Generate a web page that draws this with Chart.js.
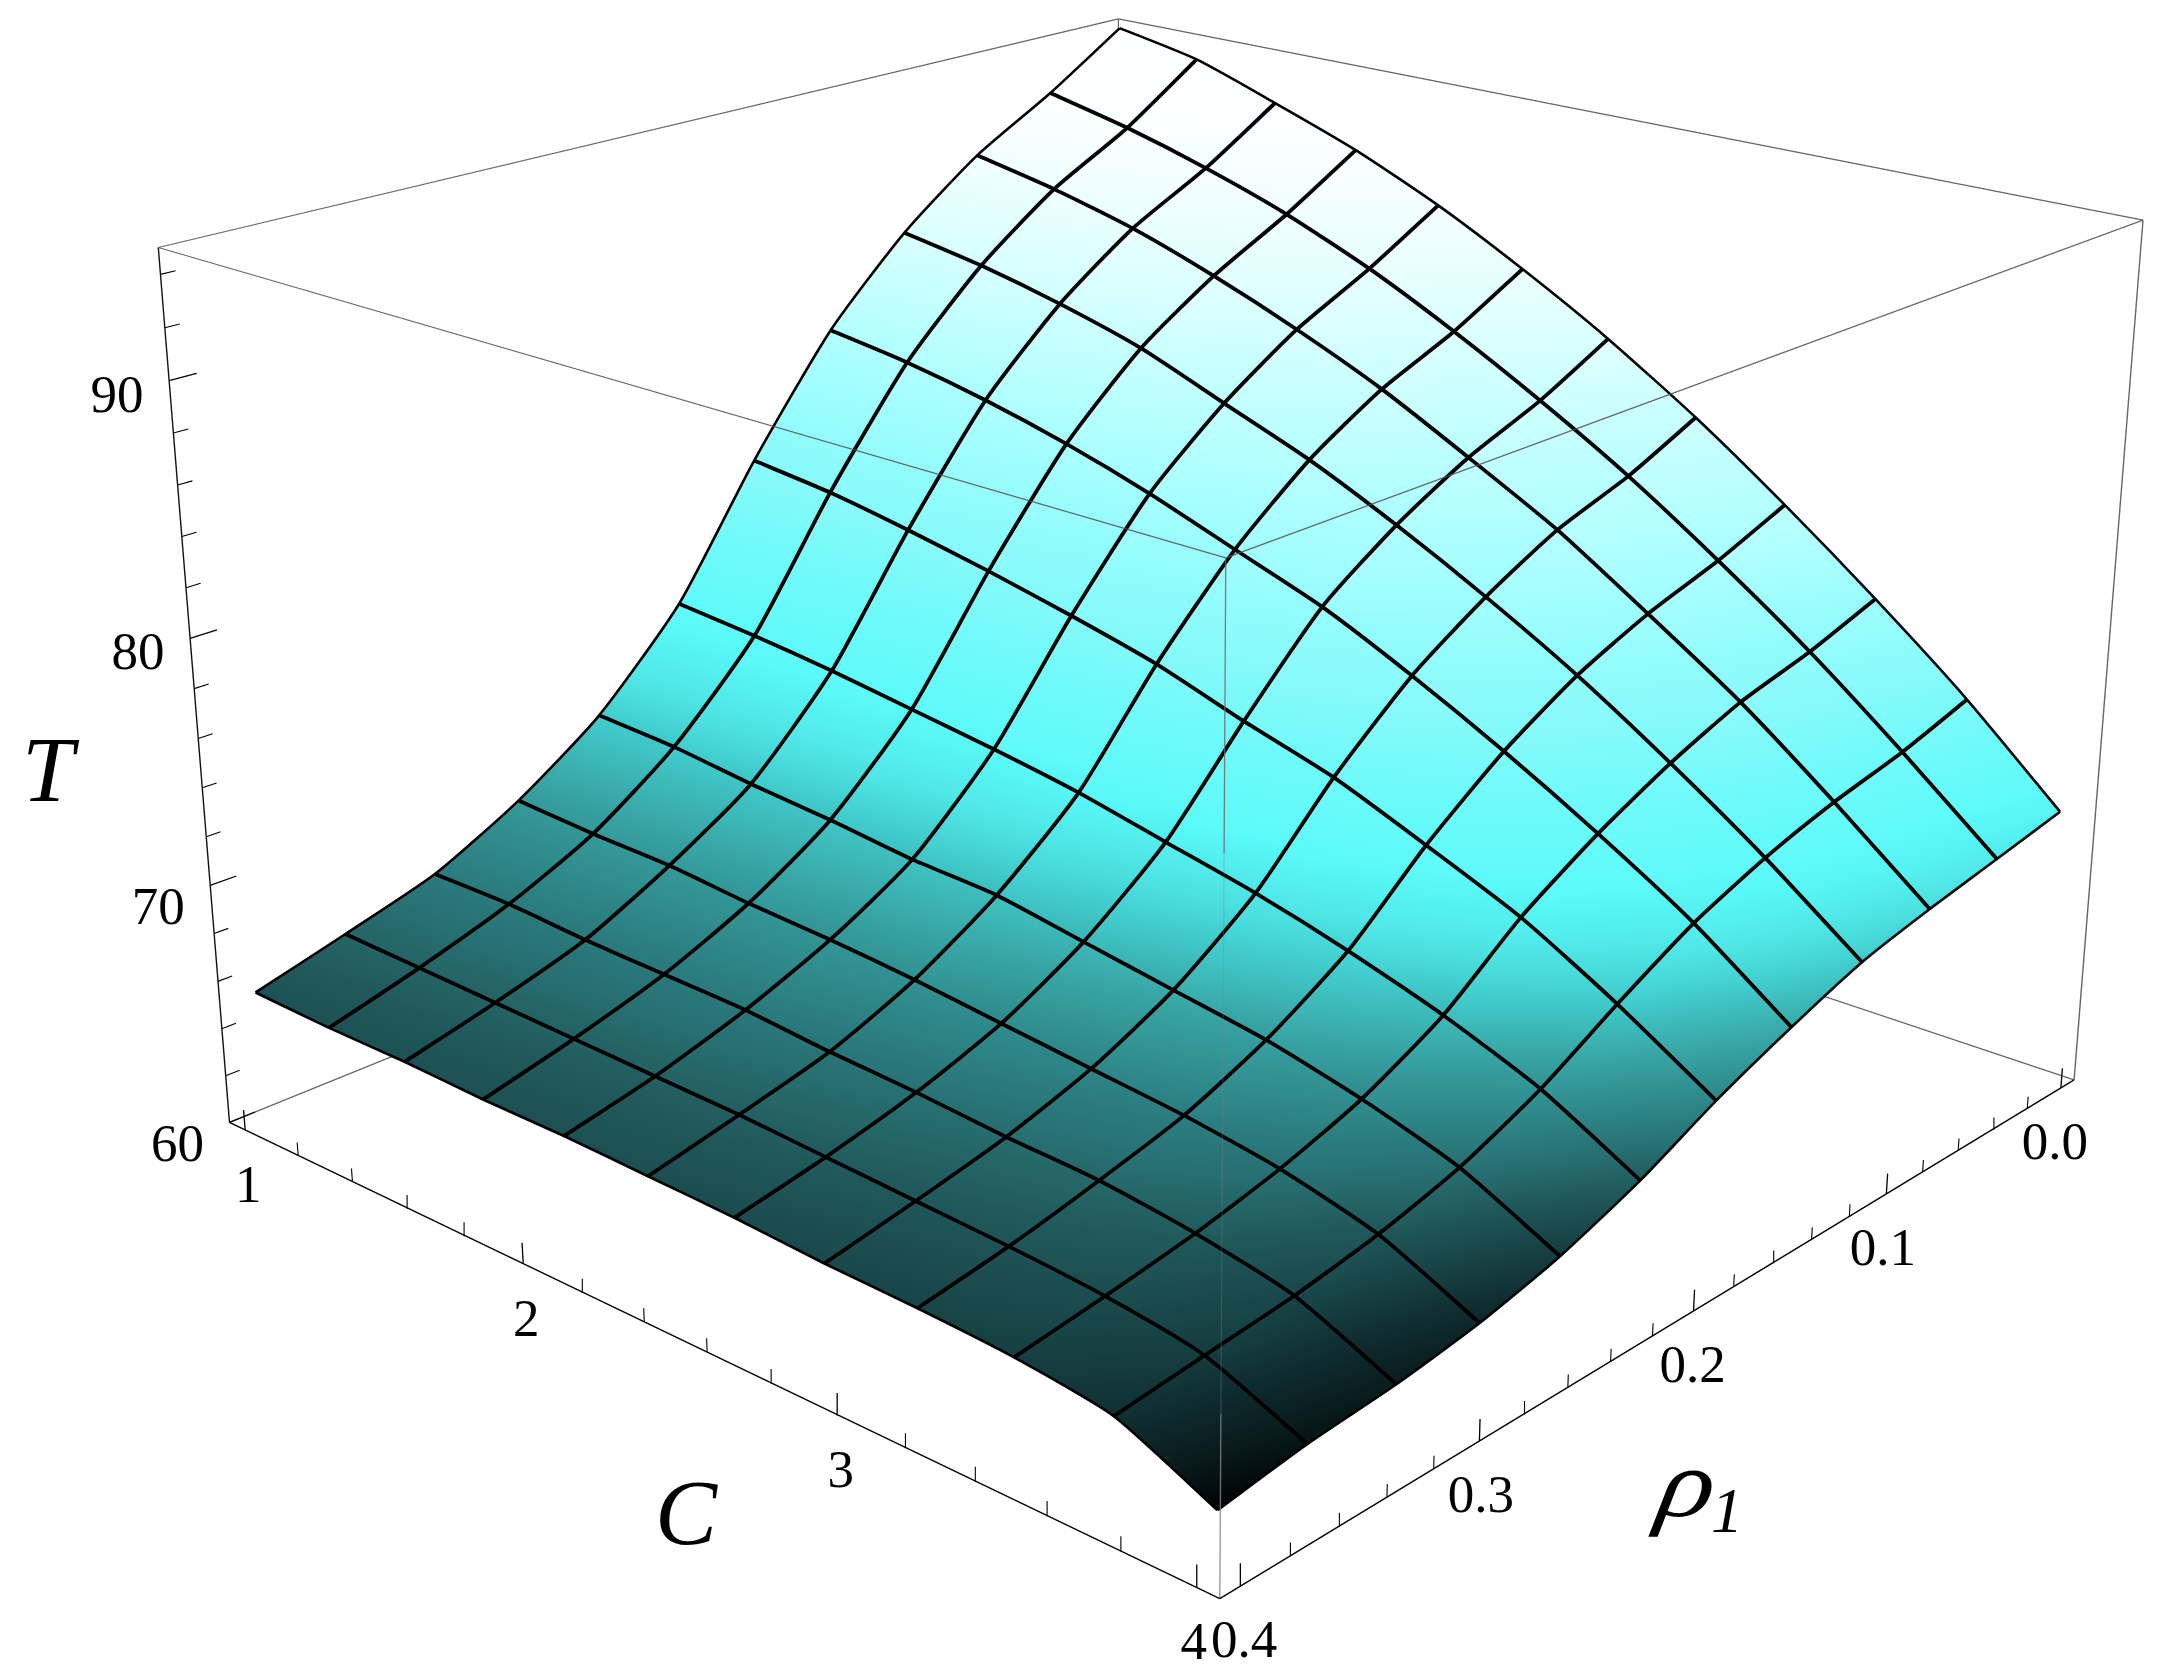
<!DOCTYPE html>
<html>
<head>
<meta charset="utf-8">
<style>html,body{margin:0;padding:0;background:#fff}canvas{display:block}</style>
<script src="https://cdn.jsdelivr.net/npm/chart.js@4"></script>
</head>
<body>
<canvas id="grafico" width="2167" height="1679" style="width:2167px;height:1679px"></canvas>
<script>
// grid of the surface
const cValues = [1, 1.273, 1.545, 1.818, 2.091, 2.364, 2.636, 2.909, 3.182, 3.455, 3.727, 4];
const rhoValues = [0, 0.036, 0.073, 0.109, 0.145, 0.182, 0.218, 0.255, 0.291, 0.327, 0.364, 0.4];
// T, one row per rho value, one column per C value
const tRow0 = [94.9, 94.2, 93.0, 91.7, 90.1, 88.2, 86.1, 83.7, 81.0, 78.1, 75.0, 71.5];
const tRow1 = [92.8, 92.0, 91.0, 89.8, 88.3, 86.5, 84.5, 82.3, 79.8, 77.1, 74.1, 70.9];
const tRow2 = [90.9, 90.2, 89.3, 88.1, 86.7, 85.1, 83.2, 81.2, 78.8, 76.3, 73.4, 70.3];
const tRow3 = [88.4, 87.8, 87.0, 86.0, 84.6, 83.2, 81.5, 79.6, 77.5, 75.1, 72.5, 69.6];
const tRow4 = [85.1, 84.6, 83.9, 83.0, 81.9, 80.6, 79.3, 77.6, 75.7, 73.6, 71.3, 68.5];
const tRow5 = [80.5, 80.1, 79.5, 78.8, 78.0, 77.1, 75.9, 74.8, 73.3, 71.7, 69.6, 67.2];
const tRow6 = [75.4, 75.1, 74.7, 74.2, 73.7, 73.1, 72.3, 71.5, 70.5, 69.3, 67.8, 65.7];
const tRow7 = [71.8, 71.6, 71.2, 70.9, 70.5, 70.3, 69.7, 69.1, 68.5, 67.6, 66.4, 64.5];
const tRow8 = [69.4, 69.2, 69.1, 68.8, 68.6, 68.3, 67.9, 67.5, 67.1, 66.5, 65.5, 63.7];
const tRow9 = [67.6, 67.6, 67.4, 67.3, 67.2, 66.9, 66.7, 66.4, 66.2, 65.7, 64.9, 63.2];
const tRow10 = [66.5, 66.4, 66.3, 66.2, 66.1, 66.0, 65.8, 65.6, 65.4, 65.1, 64.5, 62.9];
const tRow11 = [65.5, 65.4, 65.4, 65.3, 65.3, 65.2, 65.1, 64.9, 64.8, 64.6, 64.1, 62.4];
const surfaceT = [tRow0, tRow1, tRow2, tRow3, tRow4, tRow5, tRow6, tRow7, tRow8, tRow9, tRow10, tRow11];

// tick labels and tick marks
const tTicks = [60, 70, 80, 90];
const tMinor = [62, 64, 66, 68, 72, 74, 76, 78, 82, 84, 86, 88, 92, 94];
const cTicks = [1, 2, 3, 4];
const cMinor = [1.2, 1.4, 1.6, 1.8, 2.2, 2.4, 2.6, 2.8, 3.2, 3.4, 3.6, 3.8];
const rhoTicks = [0, 0.1, 0.2, 0.3, 0.4];
const rhoMinor = [0.02, 0.04, 0.06, 0.08, 0.12, 0.14, 0.16, 0.18, 0.22, 0.24, 0.26, 0.28, 0.32, 0.34, 0.36, 0.38];

// box limits
const cRange = [0.94, 4.06], rhoRange = [-0.008, 0.408], tRange = [60, 95];

// camera, fitted on the corners of the box in the picture
const boxCorners = [
  [0,0,1,1118.5,19],[1,0,1,2143,220],[1,1,1,1225.7,558],[0,1,1,158.3,247.5],
  [1,0,0,2074,1080],[1,1,0,1220,1598.6],[0,1,0,229.4,1122.3]];

function solveCamera() {
  let sol = null;
  for (let it = 0; it < 8; it++) {
    const A = [], b = [];
    boxCorners.forEach(([u,v,w,x,y]) => {
      const q = sol ? 1/(sol[8]*u+sol[9]*v+sol[10]*w+1) : 1;
      A.push([u,v,w,1,0,0,0,0,-x*u,-x*v,-x*w].map(a => a*q)); b.push(x*q);
      A.push([0,0,0,0,u,v,w,1,-y*u,-y*v,-y*w].map(a => a*q)); b.push(y*q);
    });
    const n = 11, M = [];
    for (let i = 0; i < n; i++) {
      M.push([]);
      for (let j = 0; j < n; j++) M[i].push(A.reduce((s,r) => s + r[i]*r[j], 0));
      M[i].push(A.reduce((s,r,k) => s + r[i]*b[k], 0));
    }
    for (let i = 0; i < n; i++) {
      let p = i;
      for (let k = i+1; k < n; k++) if (Math.abs(M[k][i]) > Math.abs(M[p][i])) p = k;
      [M[i],M[p]] = [M[p],M[i]];
      for (let k = 0; k < n; k++) if (k !== i) {
        const f = M[k][i]/M[i][i];
        for (let j = i; j <= n; j++) M[k][j] -= f*M[i][j];
      }
    }
    sol = M.map((r,i) => r[n]/r[i]);
  }
  return sol;
}
const cam = solveCamera();
const norm = (a, r) => (a - r[0])/(r[1] - r[0]);
function project(c, rho, t) {
  const u = norm(c,cRange), v = norm(rho,rhoRange), w = norm(t,tRange);
  const d = cam[8]*u + cam[9]*v + cam[10]*w + 1;
  return {x:(cam[0]*u+cam[1]*v+cam[2]*w+cam[3])/d, y:(cam[4]*u+cam[5]*v+cam[6]*w+cam[7])/d};
}

// colours of the surface
const shadeT = [65, 66, 68, 70, 72, 75, 77, 80, 88, 95];
const shadeGain = [0, 0.6, 1.6, 2.5, 3.2, 5, 6, 7, 5, 0];
const colorT = [60, 62.4, 63, 64, 65, 66, 67, 68, 70, 72, 73, 74, 75, 78, 80, 82, 85, 88.5, 91, 93, 95];
const colorRGB = [[0,0,0],[0,2,2],[7,23,24],[15,46,48],[26,74,76],[33,90,92],[39,111,113],[44,128,130],[56,164,164],[66,208,208],[78,228,228],[84,240,240],[92,250,250],[112,250,250],[133,250,250],[146,252,252],[176,255,255],[218,255,255],[244,255,255],[253,255,255],[255,255,255]];

function lookup(xs, ys, t) {
  let k = 0;
  while (k < xs.length-2 && t > xs[k+1]) k++;
  const f = Math.min(1, Math.max(0, (t-xs[k])/(xs[k+1]-xs[k])));
  return Array.isArray(ys[k]) ? ys[k].map((y,m) => y + (ys[k+1][m]-y)*f) : ys[k] + (ys[k+1]-ys[k])*f;
}
function surfaceColor(t, c) {
  const teff = t + lookup(shadeT, shadeGain, t)*Math.pow((c-1)/3, 1.2);
  return 'rgb(' + lookup(colorT, colorRGB, teff).map(Math.round).join(',') + ')';
}

const ctx = document.getElementById('grafico').getContext('2d');

// gradient of one cell, along the steepest direction of T on the screen
function cellGradient(pts, vals, c) {
  const mx = pts.reduce((s,p) => s+p.x, 0)/4, my = pts.reduce((s,p) => s+p.y, 0)/4, mv = vals.reduce((s,v) => s+v, 0)/4;
  let xx=0, xy=0, yy=0, xv=0, yv=0;
  pts.forEach((p,k) => {
    const dx = p.x-mx, dy = p.y-my, dv = vals[k]-mv;
    xx += dx*dx; xy += dx*dy; yy += dy*dy; xv += dx*dv; yv += dy*dv;
  });
  const det = xx*yy - xy*xy;
  const a = (yy*xv - xy*yv)/det, b = (xx*yv - xy*xv)/det;
  const len2 = a*a + b*b || 1e-6;
  const lo = Math.min(...vals), hi = Math.max(...vals);
  const g = ctx.createLinearGradient(mx+a*(lo-mv)/len2, my+b*(lo-mv)/len2, mx+a*(hi-mv)/len2, my+b*(hi-mv)/len2);
  for (let s = 0; s <= 6; s++) g.addColorStop(s/6, surfaceColor(lo+(hi-lo)*s/6, c));
  return g;
}

const layers = [];
const addLine = (data, color, width, tension) => layers.push({data, borderColor:color, borderWidth:width, showLine:true, pointRadius:0, fill:false, tension:tension||0});
const boxAt = (u,v,w) => project(cRange[u], rhoRange[v], tRange[w]);
const boxLine = (a, b, color, width) => addLine([boxAt(...a), boxAt(...b)], color, width);

// box edges behind the surface
boxLine([0,1,0],[0,0,0],'#666',1.2);
boxLine([0,0,0],[1,0,0],'#666',1.2);
boxLine([0,0,0],[0,0,1],'#666',1.2);
boxLine([0,1,1],[0,0,1],'#666',1.2);
boxLine([0,0,1],[1,0,1],'#666',1.2);
boxLine([1,0,0],[1,0,1],'#666',1.4);
boxLine([0,1,0],[0,1,1],'#111',1.4);

// surface cells
for (let j = 0; j < 11; j++) {
  for (let i = 0; i < 11; i++) {
    const idx = [[j,i],[j,i+1],[j+1,i+1],[j+1,i]];
    const pts = idx.map(([q,p]) => project(cValues[p], rhoValues[q], surfaceT[q][p]));
    const vals = idx.map(([q,p]) => surfaceT[q][p]);
    layers.push({data:pts, backgroundColor:cellGradient(pts, vals, (cValues[i]+cValues[i+1])/2), borderWidth:0, showLine:true, pointRadius:0, fill:'shape', tension:0});
  }
}
// mesh
for (let j = 1; j < 11; j++) addLine(cValues.map((c,i) => project(c, rhoValues[j], surfaceT[j][i])), '#000', 3.8, 0.2);
for (let i = 1; i < 11; i++) addLine(rhoValues.map((r,j) => project(cValues[i], r, surfaceT[j][i])), '#000', 3.8, 0.2);
[0, 11].forEach(j => addLine(cValues.map((c,i) => project(c, rhoValues[j], surfaceT[j][i])), '#000', 2.6, 0.2));
[0, 11].forEach(i => addLine(rhoValues.map((r,j) => project(cValues[i], r, surfaceT[j][i])), '#000', 2.6, 0.2));

// box edges in front of the surface
boxLine([0,1,1],[1,1,1],'rgba(80,80,80,0.85)',1.2);
boxLine([1,1,1],[1,0,1],'rgba(80,80,80,0.85)',1.2);
addLine([project(cRange[1], rhoRange[1], 95), project(cRange[1], rhoRange[1], 85.7)], 'rgba(120,100,100,0.85)', 1.3);
addLine([project(cRange[1], rhoRange[1], 85.7), project(cRange[1], rhoRange[1], 66.7)], 'rgba(130,130,130,0.3)', 1.3);
addLine([project(cRange[1], rhoRange[1], 66.7), project(cRange[1], rhoRange[1], 60)], 'rgba(130,130,130,0.85)', 1.3);
boxLine([0,1,0],[1,1,0],'#000',1.4);
boxLine([1,1,0],[1,0,0],'#000',1.4);

// tick marks
const rhoFront = rhoRange[1], cFront = cRange[1], cBack = cRange[0];
const tDir = d => rhoFront - d*(rhoRange[1]-rhoRange[0]);
tTicks.forEach(t => addLine([project(cBack, rhoFront, t), project(cBack, tDir(0.024), t)], '#000', 1.3));
tMinor.forEach(t => addLine([project(cBack, rhoFront, t), project(cBack, tDir(0.013), t)], '#000', 1.1));
cTicks.forEach(c => addLine([project(c, rhoFront, 60), project(c, rhoFront, 60.85)], '#000', 1.3));
cMinor.forEach(c => addLine([project(c, rhoFront, 60), project(c, rhoFront, 60.55)], '#000', 1.1));
rhoTicks.forEach(r => addLine([project(cFront, r, 60), project(cFront, r, 60.85)], '#000', 1.3));
rhoMinor.forEach(r => addLine([project(cFront, r, 60), project(cFront, r, 60.5)], '#000', 1.1));

// axis numbers and titles are written on the canvas at the projected ticks
const etiquetas = {
  id: 'etiquetas',
  afterDraw(chart) {
    const c = chart.ctx;
    c.save();
    c.fillStyle = '#000';
    c.textAlign = 'center';
    c.textBaseline = 'middle';
    c.font = '53px "Liberation Serif"';
    tTicks.forEach(t => {
      const p = project(cBack, rhoFront, t);
      c.fillText(String(t), p.x-52, p.y+(t <= 70 ? 25 : 17));
    });
    cTicks.forEach(v => {
      const p = project(v, rhoFront, 60);
      c.fillText(String(v), p.x+(v === 4 ? -3 : 3), p.y+58);
    });
    rhoTicks.forEach(r => {
      const p = project(cFront, r, 60);
      c.fillText(r.toFixed(1), p.x-6+25*r, p.y+57);
    });
    c.textAlign = 'left';
    c.textBaseline = 'alphabetic';
    c.font = 'italic 93px "Liberation Serif"';
    c.fillText('T', 22, 801);
    c.fillText('C', 655, 1544);
    c.font = 'italic 64px "Liberation Serif"';
    c.fillText('1', 1711, 1532);
    c.save();
    c.translate(1655, 1516);
    c.transform(1.18, 0, -0.18, 1, 0, 0);
    c.font = 'italic 97px "Liberation Serif"';
    c.fillText('ρ', 0, 0);
    c.restore();
    c.restore();
  }
};

new Chart(ctx, {
  type: 'scatter',
  data: {datasets: layers.reverse()},
  options: {
    responsive: false,
    animation: false,
    events: [],
    devicePixelRatio: 1,
    layout: {padding: 0},
    scales: {
      x: {type: 'linear', min: 0, max: 2167, display: false},
      y: {type: 'linear', min: 0, max: 1679, reverse: true, display: false}
    },
    plugins: {legend: {display: false}, tooltip: {enabled: false}}
  },
  plugins: [etiquetas]
});
</script>
</body>
</html>
